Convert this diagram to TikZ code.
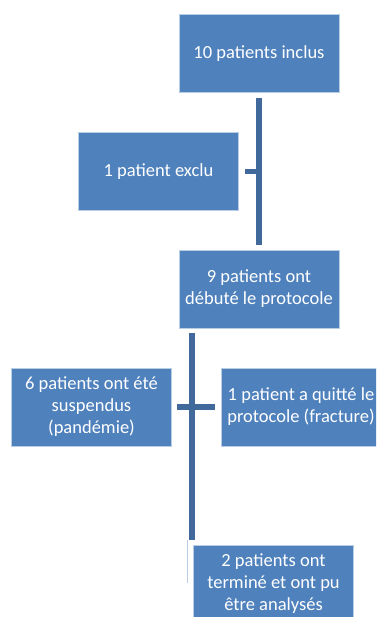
\documentclass[tikz,border=0pt]{standalone}
\usepackage{fontspec}
\setmainfont{Carlito}
\usetikzlibrary{calc}
\definecolor{boxblue}{HTML}{4F81BD}
\definecolor{lineblue}{HTML}{41699B}
\definecolor{thinblue}{HTML}{B8CCE4}
\begin{document}
\begin{tikzpicture}[x=1pt,y=-1pt,
  box/.style={rectangle, fill=boxblue, draw=boxblue!40!white, line width=0.7pt,
    minimum width=160pt, minimum height=78pt, inner sep=0pt, align=center,
    text=white, font=\fontsize{18.5}{22}\selectfont},
  conn/.style={draw=lineblue, line width=5.5pt, line cap=butt}]
\useasboundingbox (0,0) rectangle (376,617);
\clip (0,0) rectangle (376,617);
\node[box] (b1) at (259,53.5) {10 patients inclus};
\node[box] (b2) at (158.5,171.5) {1 patient exclu};
\node[box] (b3) at (259,289) {9 patients ont\\débuté le protocole};
\node[box] (b4) at (91.5,407) {6 patients ont été\\suspendus\\(pandémie)};
\node[box] (b5) at (301,407) {1 patient a quitté le\\protocole (fracture)};
\node[box] (b6) at (273.5,584) {2 patients ont\\terminé et ont pu\\être analysés};
% trunk 1
\coordinate (t1a) at ([yshift=-5pt]b1.south);
\coordinate (t1b) at ([yshift=5pt]b3.north);
\draw[conn] (t1a) -- (t1b);
\coordinate (s2) at ([xshift=6pt]b2.east);
\draw[conn] (s2) -- (s2 -| t1a);
% trunk 2
\coordinate (t2a) at ([xshift=13.5pt,yshift=-5pt]b3.south west);
\coordinate (t2b) at ([xshift=-0.5pt,yshift=5pt]b6.north west);
\draw[conn] (t2a) -- (t2a |- t2b);
\coordinate (t2c) at ([xshift=-4.5pt]t2a |- t2b);
\coordinate (t2d) at ([yshift=-43pt]t2c);
\draw[thinblue, line width=1pt] (t2c) -- (t2d);
\coordinate (c4) at ([xshift=5pt]b4.east);
\coordinate (c5) at ([xshift=-6pt]b5.west);
\draw[conn] (c4) -- (c5);
\end{tikzpicture}
\end{document}
